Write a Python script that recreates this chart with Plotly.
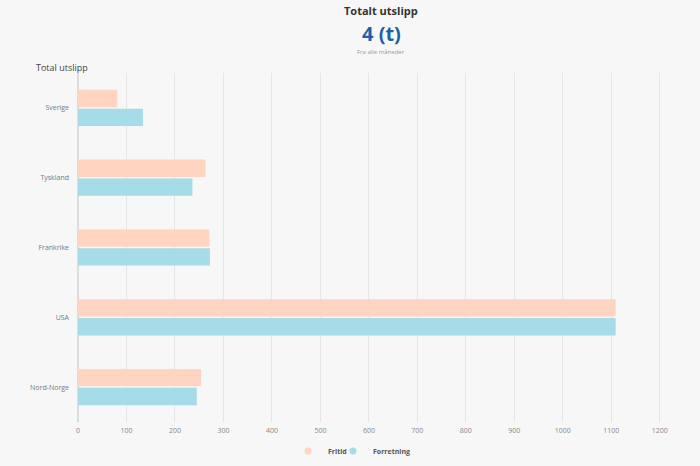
'''
    Horizontal grouped bar chart of total emissions per country,
    split into leisure (Fritid) and business (Forretning) travel.
'''

import plotly.graph_objects as go

countries = ['Sverige', 'Tyskland', 'Frankrike', 'USA', 'Nord-Norge']
fritid = [81, 263, 271, 1109, 254]
forretning = [134, 236, 272, 1109, 245]
x_ticks = [0, 100, 200, 300, 400, 500, 600, 700, 800, 900, 1000, 1100, 1200]

FONT = 'Open Sans'
COL_FRITID = '#ffd4c0'
COL_FORRETNING = '#a6dbe8'

fig = go.Figure()
fig.add_trace(go.Bar(
    y=countries,
    x=fritid,
    name='Fritid',
    orientation='h',
    marker_color=COL_FRITID,
    marker_line_width=0,
    showlegend=False
))
fig.add_trace(go.Bar(
    y=countries,
    x=forretning,
    name='Forretning',
    orientation='h',
    marker_color=COL_FORRETNING,
    marker_line_width=0,
    showlegend=False
))

# round legend markers, like the original; one small legend per entry so
# the two entries can sit close together
for name, col, leg in [('Fritid', COL_FRITID, 'legend'),
                       ('Forretning', COL_FORRETNING, 'legend2')]:
    fig.add_trace(go.Scatter(
        x=[None], y=[None], mode='markers', name=name, legend=leg,
        marker=dict(symbol='circle', size=7, color=col)
    ))

legend_style = dict(
    orientation='h',
    xref='container',
    yref='container',
    xanchor='left',
    y=15 / 466,
    yanchor='middle',
    font=dict(size=7, color='#555', weight='bold'),
    itemwidth=30,
    bgcolor='rgba(0,0,0,0)'
)

fig.update_layout(
    width=700,
    height=466,
    paper_bgcolor='#f7f7f7',
    plot_bgcolor='#f7f7f7',
    barmode='group',
    bargap=0.46,
    bargroupgap=0.08,
    margin=dict(l=78, r=16, t=73, b=44),
    font=dict(family=FONT, color='#777', size=8),
    xaxis=dict(
        range=[0, 1250],
        tickvals=x_ticks,
        showgrid=True,
        gridcolor='#e6e6e6',
        gridwidth=1,
        zeroline=True,
        zerolinecolor='#dcdcdc',
        showline=False,
        ticks='',
        ticklabelstandoff=3,
        tickfont=dict(size=7, color='#888'),
        automargin=False,
        fixedrange=True
    ),
    yaxis=dict(
        autorange='reversed',
        showgrid=False,
        ticks='',
        ticklabelstandoff=8,
        tickfont=dict(size=7, color='#777'),
        automargin=False,
        fixedrange=True
    ),
    legend=dict(legend_style, x=288 / 700),
    legend2=dict(legend_style, x=333 / 700),
    showlegend=True
)

fig.add_annotation(text='<b>Totalt utslipp</b>', xref='paper', yref='paper',
                   x=0.5, y=1, xanchor='center', yanchor='middle',
                   yshift=63, showarrow=False,
                   font=dict(family=FONT, size=11, color='#333'))
fig.add_annotation(text='<b>4 (t)</b>', xref='paper', yref='paper',
                   x=0.5, y=1, xanchor='center', yanchor='middle',
                   yshift=40, showarrow=False,
                   font=dict(family=FONT, size=20, color='#1f5fa8'))
fig.add_annotation(text='Fra alle måneder', xref='paper', yref='paper',
                   x=0.5, y=1, xanchor='center', yanchor='middle',
                   yshift=21, showarrow=False,
                   font=dict(family=FONT, size=6, color='#999'))
fig.add_annotation(text='Total utslipp', xref='paper', yref='paper',
                   x=0, y=1, xanchor='left', yanchor='middle',
                   xshift=-44, yshift=6, showarrow=False,
                   font=dict(family=FONT, size=9, color='#444'))

# drop the browser's default body margin so the figure sits at the page corner
fig.write_html('out.html', config={'displayModeBar': False},
               post_script="document.body.style.margin='0';")
